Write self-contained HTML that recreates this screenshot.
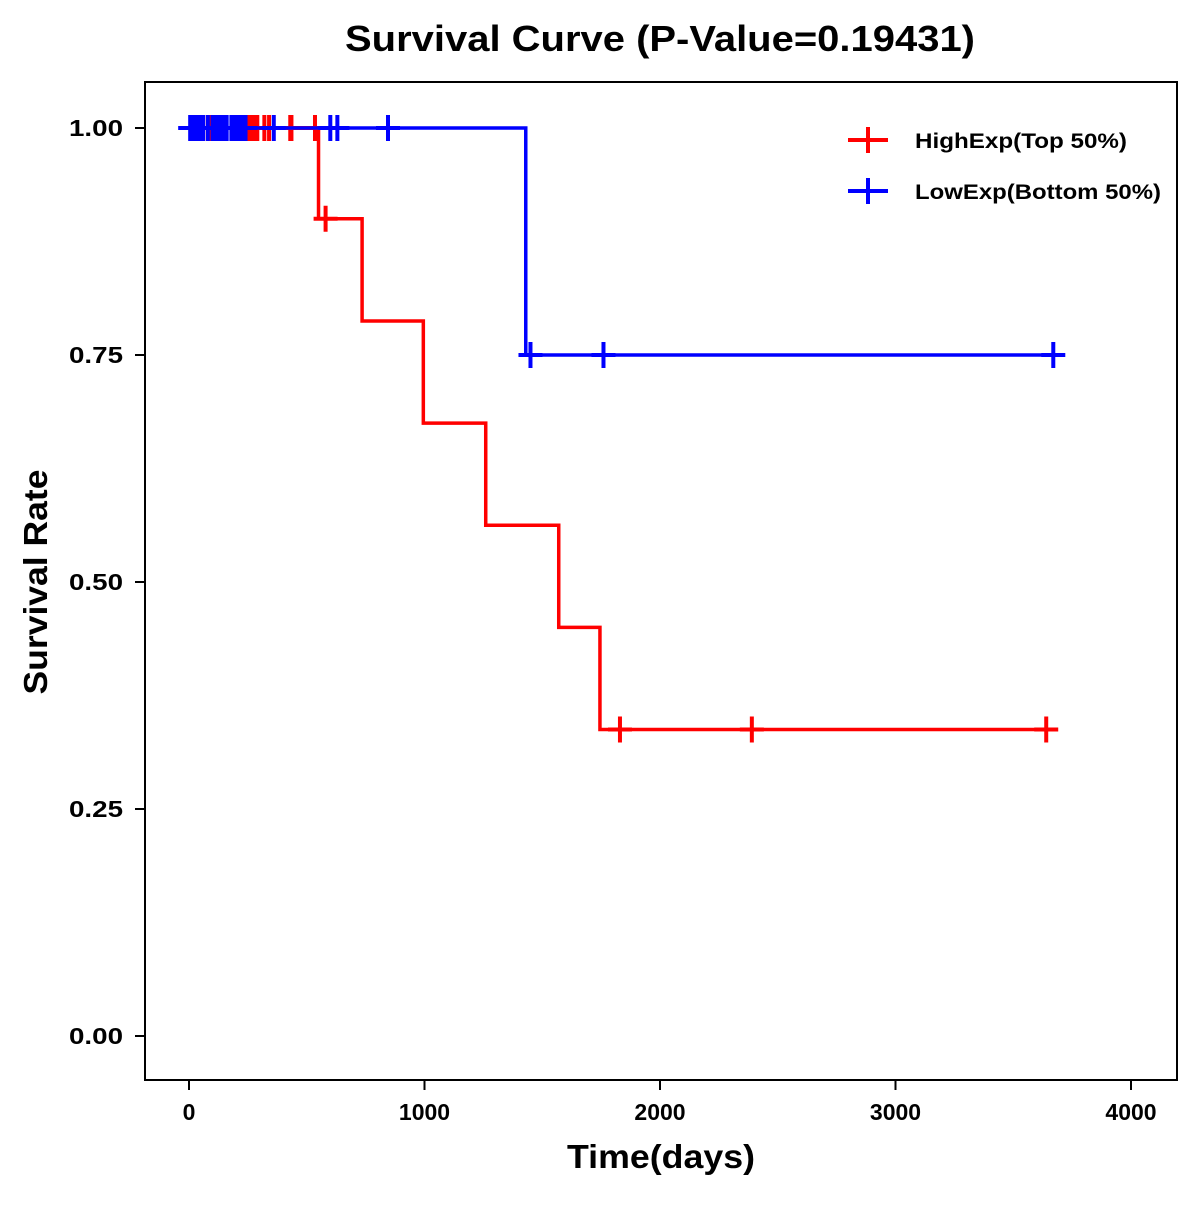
<!DOCTYPE html>
<html><head><meta charset="utf-8"><style>
body{margin:0;background:#fff;}
svg text{font-family:"Liberation Sans",Arial,sans-serif;font-weight:bold;}
</style></head><body>
<svg id="chart" width="1200" height="1200" viewBox="0 0 1200 1200" xmlns="http://www.w3.org/2000/svg">
<rect x="0" y="0" width="1200" height="1200" fill="#fff"/>
<text x="660" y="51" font-size="36" text-anchor="middle" textLength="630" lengthAdjust="spacingAndGlyphs">Survival Curve (P-Value=0.19431)</text>
<rect x="145" y="82" width="1032" height="998" fill="none" stroke="#000" stroke-width="2"/>
<g id="axes"></g>
<g id="series"></g>
<text x="661" y="1168" font-size="33" text-anchor="middle" textLength="188" lengthAdjust="spacingAndGlyphs">Time(days)</text>
<text transform="translate(47,582) rotate(-90)" font-size="33" text-anchor="middle" textLength="225" lengthAdjust="spacingAndGlyphs">Survival Rate</text>
<g>
<g>
<line x1="848" y1="140" x2="888" y2="140" stroke="#f00" stroke-width="4"/>
<line x1="868" y1="127" x2="868" y2="153" stroke="#f00" stroke-width="4"/>
<text x="915" y="148" font-size="21" textLength="212" lengthAdjust="spacingAndGlyphs">HighExp(Top 50%)</text>
</g>
<g>
<line x1="848" y1="191" x2="888" y2="191" stroke="#00f" stroke-width="4"/>
<line x1="868" y1="178" x2="868" y2="204" stroke="#00f" stroke-width="4"/>
<text x="915" y="199" font-size="21" textLength="246" lengthAdjust="spacingAndGlyphs">LowExp(Bottom 50%)</text>
</g>
</g>
</svg>
<script>
const xTicks=[0,1000,2000,3000,4000];
const yTicks=[0,0.25,0.5,0.75,1];
const yTickLabels=["0.00","0.25","0.50","0.75","1.00"];
const highStepTimes=[550,735,995,1260,1570,1745];
const highStepValues=[0.9,0.7875,0.675,0.5625,0.45,0.3375];
const highEnd=3670;
const highCensorTimes=[80,85,250,255,260,270,280,290,320,340,430,435,535,580,1830,2390,3640];
const lowStepTimes=[1430];
const lowStepValues=[0.75];
const lowEnd=3700;
const lowCensorTimes=[5,10,15,20,25,30,40,50,60,80,100,110,120,130,140,150,160,180,190,200,210,220,230,240,360,600,630,845,1450,1760,3670];

const xS=t=>189+t*0.2355;
const yS=v=>1036-v*908;
const NS="http://www.w3.org/2000/svg";
function mk(tag,attrs,parent){const e=document.createElementNS(NS,tag);for(const k in attrs)e.setAttribute(k,attrs[k]);parent.appendChild(e);return e;}
const axes=document.getElementById('axes');
xTicks.forEach(t=>{
  const l=mk('line',{x1:xS(t),x2:xS(t),y1:1080,y2:1090,stroke:'#000','stroke-width':2},axes);
  
  
  const tx=mk('text',{x:xS(t),y:1120,'font-size':23,'text-anchor':'middle'},axes);
  tx.textContent=t;
  
  
});
yTicks.forEach((v,i)=>{
  const l=mk('line',{x1:135,x2:145,y1:yS(v),y2:yS(v),stroke:'#000','stroke-width':2},axes);
  
  
  const tx=mk('text',{x:123,y:yS(v)+8,'font-size':23,'text-anchor':'end',textLength:54,lengthAdjust:'spacingAndGlyphs'},axes);
  tx.textContent=yTickLabels[i];
  
  
});
function survAt(t,times,vals){let s=1;times.forEach((tt,i)=>{if(t>=tt)s=vals[i];});return s;}
const series=document.getElementById('series');
function draw(times,vals,end,cens,color,name){
  let d=`M${xS(0)},${yS(1)}`;
  times.forEach((t,i)=>{d+=` H${xS(t)} V${yS(vals[i])}`;});
  d+=` H${xS(end)}`;
  const p=mk('path',{d:d,fill:'none',stroke:color,'stroke-width':3.5},series);
  
  
  cens.forEach(t=>{
    const x=xS(t),y=yS(survAt(t,times,vals));
    const g=mk('path',{d:`M${x-12},${y} H${x+12} M${x},${y-13} V${y+13}`,stroke:color,'stroke-width':4,fill:'none'},series);
    
    
  });
}
draw(highStepTimes,highStepValues,highEnd,highCensorTimes,'#f00','high-exp');
draw(lowStepTimes,lowStepValues,lowEnd,lowCensorTimes,'#00f','low-exp');
</script>
</body></html>
